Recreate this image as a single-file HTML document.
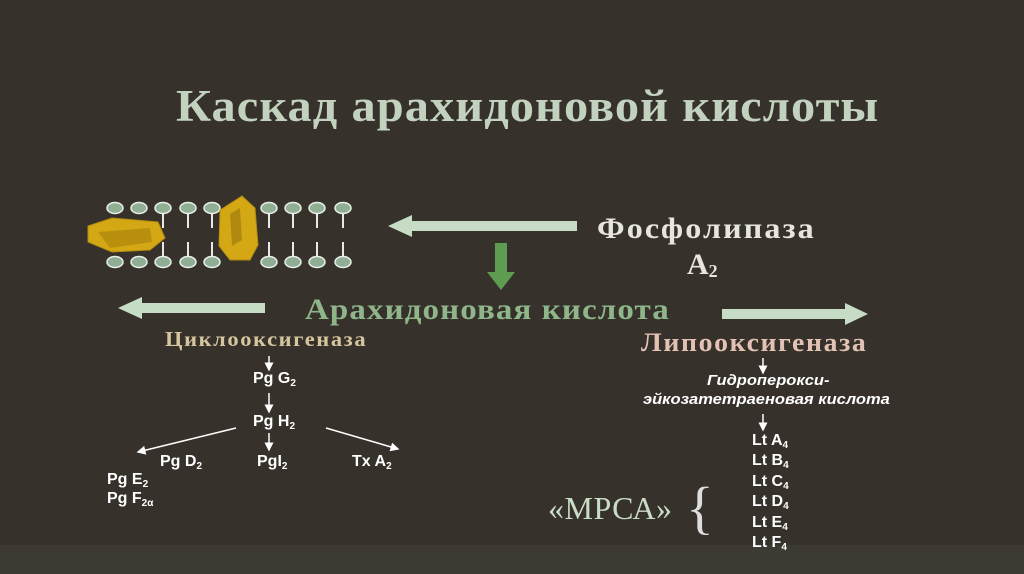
<html><head><style>
body{margin:0;width:1024px;height:574px;background:#36312b;position:relative;overflow:hidden;font-family:"Liberation Sans",sans-serif}
.s{font-family:"Liberation Serif",serif;font-weight:bold;position:absolute;white-space:nowrap;transform-origin:0 0}
.a{position:absolute;color:#fff;font-weight:bold;font-size:16px;white-space:nowrap}
sub{font-size:10px;vertical-align:-3px;line-height:0}
</style></head><body>
<div style="position:absolute;left:0;top:545px;width:1024px;height:29px;background:#3d3933"></div>
<div class="s" style="left:176px;top:80px;font-size:45px;color:#c2d2bf;letter-spacing:1px;transform:scaleX(1.075)">Каскад арахидоновой кислоты</div>
<div class="s" style="left:597px;top:212px;font-size:30px;color:#e6e6dc;letter-spacing:2px;transform:scaleX(1.07)">Фосфолипаза</div>
<div class="s" style="left:687px;top:248px;font-size:30px;color:#e6e6dc">A<sub style="font-size:18px">2</sub></div>
<div class="s" style="left:305px;top:293px;font-size:30px;color:#8fb58a;letter-spacing:1px;transform:scaleX(1.1)">Арахидоновая кислота</div>
<div class="s" style="left:165px;top:327px;font-size:21px;color:#d6c6a0;letter-spacing:1.5px;transform:scaleX(1.07)">Циклооксигеназа</div>
<div class="s" style="left:641px;top:328px;font-size:26px;color:#e2c2b4;letter-spacing:1.5px;transform:scaleX(1.07)">Липооксигеназа</div>
<div class="s" style="left:548px;top:490px;font-size:32px;color:#c9dcc6;font-weight:normal;letter-spacing:0.5px">«МРСА»</div>
<div style="position:absolute;left:686px;top:474px;font-size:58px;color:#ddd;font-family:'Liberation Serif',serif;font-weight:normal">{</div>
<div class="a" style="left:253px;top:370px">Pg G<sub>2</sub></div>
<div class="a" style="left:253px;top:413px">Pg H<sub>2</sub></div>
<div class="a" style="left:160px;top:453px">Pg D<sub>2</sub></div>
<div class="a" style="left:257px;top:453px">PgI<sub>2</sub></div>
<div class="a" style="left:352px;top:453px">Tx A<sub>2</sub></div>
<div class="a" style="left:107px;top:471px">Pg E<sub>2</sub></div>
<div class="a" style="left:107px;top:490px">Pg F<sub>2α</sub></div>
<div class="a" style="left:707px;top:372px;font-style:italic;font-size:15px;transform:scaleX(1.1);transform-origin:0 0">Гидроперокси-</div>
<div class="a" style="left:643px;top:391px;font-style:italic;font-size:15px;transform:scaleX(1.1);transform-origin:0 0">эйкозатетраеновая кислота</div>
<div class="a" style="left:752px;top:431px;line-height:20.4px">Lt A<sub>4</sub><br>Lt B<sub>4</sub><br>Lt C<sub>4</sub><br>Lt D<sub>4</sub><br>Lt E<sub>4</sub><br>Lt F<sub>4</sub></div>
<svg width="1024" height="574" style="position:absolute;left:0;top:0">
<defs><marker id="m" markerWidth="6" markerHeight="6" refX="5" refY="3" orient="auto"><path d="M0,0L6,3L0,6z" fill="#fff"/></marker></defs>
<g stroke="#e8e8e8" stroke-width="2">
<path d="M163,214v14M188,214v14M212,214v14M269,214v14M293,214v14M317,214v14M343,214v14M163,256v-14M188,256v-14M212,256v-14M269,256v-14M293,256v-14M317,256v-14M343,256v-14"/>
</g>
<g fill="#8fae93" stroke="#e8eee8" stroke-width="1.5">
<g id="r"><ellipse cx="115" cy="208" rx="8" ry="5.5"/><ellipse cx="139" cy="208" rx="8" ry="5.5"/><ellipse cx="163" cy="208" rx="8" ry="5.5"/><ellipse cx="188" cy="208" rx="8" ry="5.5"/><ellipse cx="212" cy="208" rx="8" ry="5.5"/><ellipse cx="269" cy="208" rx="8" ry="5.5"/><ellipse cx="293" cy="208" rx="8" ry="5.5"/><ellipse cx="317" cy="208" rx="8" ry="5.5"/><ellipse cx="343" cy="208" rx="8" ry="5.5"/></g>
<use href="#r" y="54"/>
</g>
<path d="M88,226L112,218L158,222L165,238L150,250L112,252L88,242z" fill="#d4a814" stroke="#b08a10"/>
<path d="M98,232L150,228L152,242L110,248z" fill="#b8900e"/>
<path d="M220,210L242,196L255,208L258,245L250,260L230,260L219,246z" fill="#d4a814" stroke="#b08a10"/>
<path d="M230,214L240,208L242,240L232,246z" fill="#b08a10"/>
<g fill="#c6dcc4">
<path d="M577,221H412V215L388,226L412,237V231H577z"/>
<path d="M265,303H142V297L118,308L142,319V313H265z"/>
<path d="M722,309H845V303L868,314L845,325V319H722z"/>
</g>
<path d="M495,243H507V272H515L501,290L487,272H495z" fill="#5e9c52"/>
<g stroke="#fff" stroke-width="1.5" fill="none" marker-end="url(#m)">
<path d="M269,356V370"/><path d="M269,393V412"/><path d="M269,433V450"/>
<path d="M236,428L138,452"/><path d="M326,428L398,449"/>
<path d="M763,358V373"/><path d="M763,414V430"/>
</g>
</svg>
</body></html>
